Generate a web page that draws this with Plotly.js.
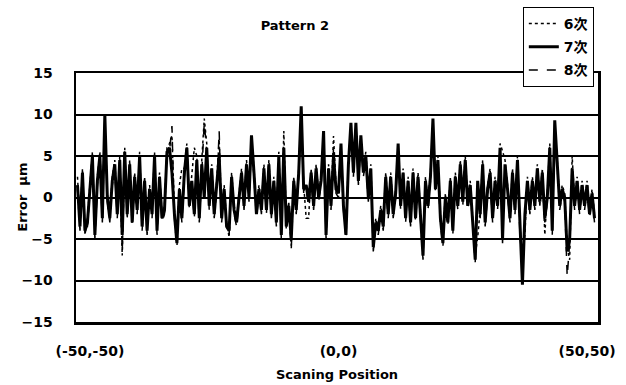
<!DOCTYPE html>
<html>
<head>
<meta charset="utf-8">
<script src="https://cdn.plot.ly/plotly-3.0.1.min.js"></script>
<style>html,body{margin:0;padding:0;background:#fff;}#chart{width:626px;height:385px;}</style>
</head>
<body>
<div id="chart"></div>
<script>
// Scanning positions: sample index along the diagonal scan, -52.5 ... 51.5 (0.5 step)
const startPos = -52.5;
const stepPos = 0.5;

const tickPositions = [-50, 0, 50];
const tickLabels = ["(-50,-50)", "(0,0)", "(50,50)"];
const seriesNames = ["6次", "7次", "8次"];

const order6 = [
 2.5,-3,3.5,-4.5,-2.5,1.5,5.5,-4,2.5,5.5,-2,9.5,0.5,-2,2.5,4.5,-1.5,5,-7,6,-2.5,4.5,-2.5,3,-1,5.5,-3,2.5,-3.5,1.5,-1.5,5.5,-3.5,3,-2,
 -1,6,6.5,7.5,-1.5,-5,1.5,3.5,3.5,6.5,-0.5,2.5,6,5,-2,4.5,9.5,6.5,-0.5,4,-1.5,2,7,-2,1.5,-3,-4.8,3,-1,-2.5,1,3.5,-0.5,4.5,0.5,
 7,3.5,-1.5,1.5,-1,4,-1,4.5,-1.5,2.5,-2.5,5.5,-4,8,-3,-0.5,-5.8,2.5,-1,3.5,10,1.5,-2.5,-2.5,3.5,-0.5,4,0.5,2.5,7.5,-4,4,-0.5,7.4,1.5,
 1,6,-0.5,-4,4.5,8.5,3.5,8.5,2.5,7,3.5,5.5,0.5,4,-5.5,-2.5,-3.5,-1,-3,3,-1.5,3,-1.5,1,6,-0.5,3.5,-2,2.5,-2.5,3.5,-2,3,
 -1.5,-6.5,2.5,-0.5,3,9,1.5,5,-2,-5,0.5,-2.5,2.5,-3.5,3,-0.5,4.5,0,5,-0.5,2,-3,-7,-4.8,-1.5,4.5,-2.5,1.5,3.5,-2,2.5,-0.5,6.5,5.6,4.5,
 1.5,-2,3.5,-1,5,-3.5,-7,-4.5,2.5,-1,2.5,-0.5,4,0,3.5,-4.5,0.5,6.5,-3.5,8.8,4.5,-0.5,1.5,0.5,-6,-7.5,5,-0.5,2.5,-1,2,-0.5,2,-1.5,1,-2
];

const order7 = [
 1.5,-3.5,3,-4,-3,1,5,-4.5,2,5,-2.5,10,0,-2.5,2,4,-2,4.5,-4.5,5.5,-2,4,-3,2.5,-1.5,5,-3.5,2,-4,1,-2,5,-4,2.5,-2.5,
 -1.5,5.5,6,3,-2,-5.5,1,-2.5,3,6,-1,2,-2,4.5,-2.5,4,0,6,-1,3.5,-2,1.5,5,-2.5,1,-3.5,-4,2.5,-1.5,-3,0.5,3,-1,4,0,
 7.5,3,-2,1,-1.5,3.5,-1.5,4,-2,2,-3,5,-4.5,6,-3.5,-1,-5,2,-1.5,3,11,1,1.5,-0.5,3,-1,3.5,0,2,8,-4.5,3.5,-1,5,1,
 0.5,6.5,-1,-4.5,4,9,3,9,2,7.5,3,5,0,3.5,-6,-3,-4,-1.5,-3.5,2.5,-2,2.5,-2,0.5,6.5,-1,3,-2.5,2,-3,3,-2.5,2.5,
 -2,-7,2,-1,2.5,9.5,1,4.5,-2.5,-5.5,0,-3,2,-4,2.5,-1,4,-0.5,4.5,-1,1.5,-3.5,-7.5,2,-2,4,-3,1,3,-2.5,2,-1,6,-5,4,
 1,-2.5,3,-1.5,4.5,-4,-10.5,-2,2,-1.5,2,-1,3.5,-0.5,3,-2.5,0,6,-4,9.3,4,-1,1,0,-6.5,-5,3.5,-1,2,-1.5,1.5,-1,1.5,-2,0.5,-2.5
];

const order8 = [
 1,-4,2.5,-3.5,-3.5,0.5,4.5,-5,1.5,4.5,-3,9,-0.5,-3,1.5,3.5,-2.5,4,-6.5,5,-1.5,3.5,-3.5,2,-2,4.5,-4,1.5,-4.5,0.5,-2.5,4.5,-4.5,2,-3,
 -2,5,5.5,8.6,-2.5,-6,0.5,-3,2.5,5.5,-1.5,1.5,-2.5,4,-3,3.5,9,5.5,-1.5,3,-2.5,1,8,-3,0.5,-4,-4.5,2,-2,-3.5,0,2.5,-1.5,3.5,-0.5,
 6.5,2.5,-2.5,0.5,-2,3,-2,3.5,-2.5,1.5,-3.5,4.5,-5,6.5,-4,-1.5,-6.2,1.5,-2,2.5,10.5,0.5,1,-1,2.5,-1.5,3,-0.5,1.5,7.5,-5,3,-1.5,6,0.5,
 0,5.5,-1.5,-5,3.5,8.8,2.5,8.8,1.5,7,2.5,4.5,-0.5,3,-6.5,-3.5,-4.5,-2,-4,2,-2.5,2,-2.5,0,6,-1.5,2.5,-3,1.5,-3.5,2.5,-3,2,
 -2.5,-7.5,1.5,-1.5,2,9,0.5,4,-3,-6,-0.5,-3.5,1.5,-4.5,2,-1.5,3.5,-1,4,-1.5,1,-4,-7.8,1.5,-2.5,3.5,-3.5,0.5,2.5,-3,1.5,-1.5,5.5,-5.5,3.5,
 0.5,-3,2.5,-2,4,-4.5,-8,-2.5,1.5,-2,1.5,-1.5,3,-1,2.5,-3,-0.5,5.5,-4.5,9,3.5,-1.5,0.5,-0.5,-9.5,-5.5,3,-1.5,1.5,-2,1,-1.5,1,-2.5,0,-3
];

const positions = order7.map((_, i) => startPos + i * stepPos);

const FONT = "DejaVu Sans, Noto Sans CJK JP, sans-serif";

const traces = [
  {x: positions, y: order6, name: seriesNames[0], type: "scatter", mode: "lines",
   line: {color: "#000", width: 1.5, dash: "dot"}, legendgroup: "a"},
  {x: positions, y: order7, name: seriesNames[1], type: "scatter", mode: "lines",
   line: {color: "#000", width: 3}, legendgroup: "b"},
  {x: positions, y: order8, name: seriesNames[2], type: "scatter", mode: "lines",
   line: {color: "#000", width: 1.5, dash: "dash"}, legendgroup: "c"}
];

const layout = {
  width: 626, height: 385,
  margin: {l: 76, r: 28, t: 73, b: 63, autoexpand: false},
  paper_bgcolor: "#fff", plot_bgcolor: "#fff",
  font: {family: FONT, color: "#000", size: 14},
  title: {text: "Pattern 2", x: 0.471, xref: "container", xanchor: "center",
          y: 0.935, yref: "container", yanchor: "middle",
          font: {family: FONT, size: 13, weight: "bold", color: "#000"}},
  xaxis: {
    range: [-52.8, 52.2], showgrid: false, zeroline: false,
    tickmode: "array", tickvals: tickPositions, ticktext: tickLabels,
    ticks: "outside", ticklen: 15, tickcolor: "rgba(0,0,0,0)",
    tickfont: {family: FONT, size: 14, weight: "bold"},
    showline: true, linecolor: "#000", linewidth: 2.5, mirror: true,
    title: {text: "Scaning Position", standoff: 12, font: {family: FONT, size: 13, weight: "bold"}}
  },
  yaxis: {
    range: [-15, 15], tickmode: "linear", tick0: -15, dtick: 5,
    showgrid: true, gridcolor: "#000", gridwidth: 2,
    zeroline: true, zerolinecolor: "#000", zerolinewidth: 2,
    ticks: "outside", ticklen: 18, tickcolor: "rgba(0,0,0,0)",
    tickfont: {family: FONT, size: 14, weight: "bold"},
    showline: true, linecolor: "#000", linewidth: 2.5, mirror: true
  },
  annotations: [{
    text: "Error  μm", textangle: -90, showarrow: false,
    xref: "paper", x: -0.103, xanchor: "center",
    yref: "paper", y: 0.5, yanchor: "middle",
    font: {family: FONT, size: 13, weight: "bold", color: "#000"}
  }],
  showlegend: true,
  legend: {
    xref: "paper", x: 0.856, xanchor: "left",
    yref: "container", y: 0.982, yanchor: "top",
    bgcolor: "#fff", bordercolor: "#000", borderwidth: 1,
    font: {family: FONT, size: 14, weight: "bold", color: "#000"},
    tracegroupgap: 2, itemwidth: 30
  }
};

Plotly.newPlot("chart", traces, layout, {displayModeBar: false, staticPlot: true});
</script>
</body>
</html>
